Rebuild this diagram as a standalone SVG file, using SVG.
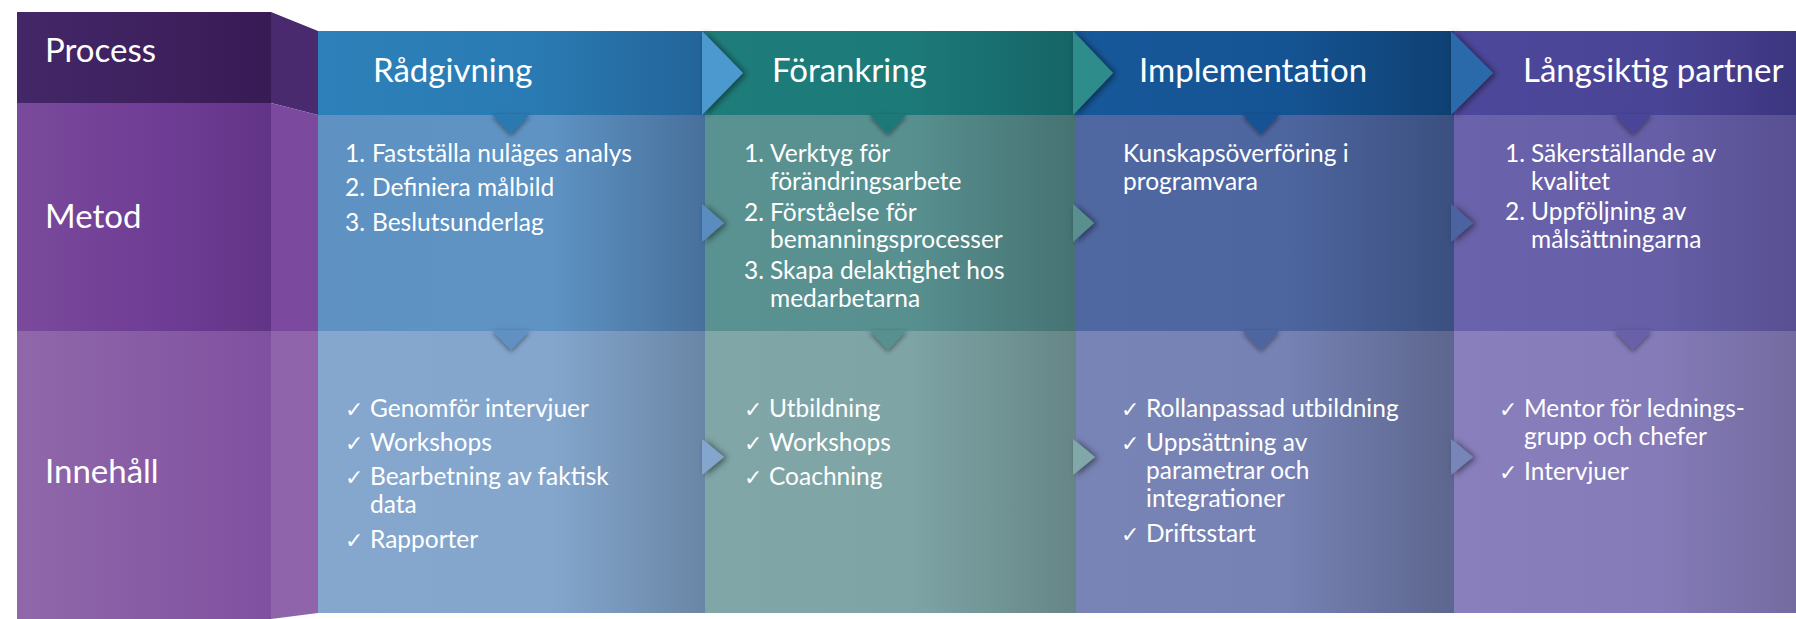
<svg xmlns="http://www.w3.org/2000/svg" width="1796" height="619" viewBox="0 0 1796 619">
<style>
.t{font-family:Lato,"Open Sans",sans-serif;fill:#fff}
.h{font-size:33px}
.b{font-size:24.5px}
.ck{font-family:"DejaVu Sans",sans-serif;font-size:22px;fill:#fff}
.sh{filter:url(#ds)}
.sd{filter:url(#dd)}
</style>
<defs>
<filter id="ds" x="-100%" y="-100%" width="300%" height="300%">
<feDropShadow dx="3" dy="1" stdDeviation="3" flood-color="#000" flood-opacity="0.5"/>
</filter>
<filter id="dd" x="-100%" y="-100%" width="300%" height="300%">
<feDropShadow dx="0" dy="2" stdDeviation="2.5" flood-color="#000" flood-opacity="0.45"/>
</filter>
<linearGradient id="lp" x1="0" x2="1"><stop offset="0" stop-color="#442768"/><stop offset="1" stop-color="#381b55"/></linearGradient>
<linearGradient id="lm" x1="0" x2="1"><stop offset="0" stop-color="#7a4a9c"/><stop offset="0.6" stop-color="#6e3c94"/><stop offset="1" stop-color="#623487"/></linearGradient>
<linearGradient id="li" x1="0" x2="1"><stop offset="0" stop-color="#9068aa"/><stop offset="1" stop-color="#8050a0"/></linearGradient>
<linearGradient id="p1" x1="0" x2="1"><stop offset="0" stop-color="#2d80b9"/><stop offset="0.55" stop-color="#2a7bb3"/><stop offset="1" stop-color="#23649a"/></linearGradient>
<linearGradient id="m1" x1="0" x2="1"><stop offset="0" stop-color="#5f92c2"/><stop offset="0.6" stop-color="#5e93c3"/><stop offset="1" stop-color="#48709c"/></linearGradient>
<linearGradient id="i1" x1="0" x2="1"><stop offset="0" stop-color="#85a7ce"/><stop offset="0.6" stop-color="#84a6cd"/><stop offset="1" stop-color="#6a86a6"/></linearGradient>
<linearGradient id="p2" x1="0" x2="1"><stop offset="0" stop-color="#1e7d7b"/><stop offset="0.55" stop-color="#1c7a78"/><stop offset="1" stop-color="#166466"/></linearGradient>
<linearGradient id="m2" x1="0" x2="1"><stop offset="0" stop-color="#5a9292"/><stop offset="0.55" stop-color="#589090"/><stop offset="1" stop-color="#467272"/></linearGradient>
<linearGradient id="i2" x1="0" x2="1"><stop offset="0" stop-color="#80a6a8"/><stop offset="0.55" stop-color="#7ea4a6"/><stop offset="1" stop-color="#668686"/></linearGradient>
<linearGradient id="p3" x1="0" x2="1"><stop offset="0" stop-color="#17589a"/><stop offset="0.55" stop-color="#155494"/><stop offset="1" stop-color="#0f4072"/></linearGradient>
<linearGradient id="m3" x1="0" x2="1"><stop offset="0" stop-color="#5068a2"/><stop offset="0.55" stop-color="#4e66a0"/><stop offset="1" stop-color="#3b5080"/></linearGradient>
<linearGradient id="i3" x1="0" x2="1"><stop offset="0" stop-color="#7884b6"/><stop offset="0.55" stop-color="#7682b4"/><stop offset="1" stop-color="#5c668e"/></linearGradient>
<linearGradient id="p4" x1="0" x2="1"><stop offset="0" stop-color="#4e489c"/><stop offset="0.6" stop-color="#4a4496"/><stop offset="1" stop-color="#3c3680"/></linearGradient>
<linearGradient id="m4" x1="0" x2="1"><stop offset="0" stop-color="#6a62aa"/><stop offset="0.6" stop-color="#665ea6"/><stop offset="1" stop-color="#585092"/></linearGradient>
<linearGradient id="i4" x1="0" x2="1"><stop offset="0" stop-color="#887fbc"/><stop offset="0.6" stop-color="#847bb8"/><stop offset="1" stop-color="#746ca0"/></linearGradient>
</defs>
<rect width="1796" height="619" fill="#fff"/>

<g id="labels">
<rect x="17" y="12" width="254" height="91" fill="url(#lp)"/>
<rect x="17" y="103" width="254" height="228" fill="url(#lm)"/>
<rect x="17" y="331" width="254" height="288" fill="url(#li)"/>
<polygon points="271,12 318,31 318,115 271,103" fill="#4a2a6e"/>
<polygon points="271,103 318,115 318,331 271,331" fill="#7b4a9f"/>
<polygon points="271,331 318,331 318,613 271,619" fill="#8f64aa"/>
<text class="t h" x="45" y="62">Process</text>
<text class="t h" x="45" y="228">Metod</text>
<text class="t h" x="45" y="483">Innehåll</text>
</g>

<g id="col1">
<rect x="318" y="31" width="387" height="84" fill="url(#p1)"/>
<rect x="318" y="115" width="387" height="216" fill="url(#m1)"/>
<rect x="318" y="331" width="387" height="282" fill="url(#i1)"/>
</g>
<g id="col2">
<rect x="705" y="31" width="371" height="84" fill="url(#p2)"/>
<rect x="705" y="115" width="371" height="216" fill="url(#m2)"/>
<rect x="705" y="331" width="371" height="282" fill="url(#i2)"/>
</g>
<g id="col3">
<rect x="1076" y="31" width="378" height="84" fill="url(#p3)"/>
<rect x="1076" y="115" width="378" height="216" fill="url(#m3)"/>
<rect x="1076" y="331" width="378" height="282" fill="url(#i3)"/>
</g>
<g id="col4">
<rect x="1454" y="31" width="342" height="84" fill="url(#p4)"/>
<rect x="1454" y="115" width="342" height="216" fill="url(#m4)"/>
<rect x="1454" y="331" width="342" height="282" fill="url(#i4)"/>
</g>

<g id="connectors">
<polygon class="sd" points="492,114 530,114 511,134" fill="#2a79b1"/>
<polygon class="sd" points="869,114 907,114 888,134" fill="#1c7977"/>
<polygon class="sd" points="1242,114 1280,114 1261,134" fill="#145294"/>
<polygon class="sd" points="1614,114 1652,114 1633,134" fill="#4a4498"/>
<polygon class="sd" points="492,330 530,330 511,350" fill="#5e92c2"/>
<polygon class="sd" points="869,330 907,330 888,350" fill="#588f8f"/>
<polygon class="sd" points="1242,330 1280,330 1261,350" fill="#4d65a0"/>
<polygon class="sd" points="1614,330 1652,330 1633,350" fill="#6860a8"/>
<polygon class="sh" points="702,31 743,73 702,115" fill="#4b99cf"/>
<polygon class="sh" points="1073,31 1113,73 1073,115" fill="#2e8d8b"/>
<polygon class="sh" points="1451,31 1493,73 1451,115" fill="#2a69aa"/>
<polygon class="sh" points="702,204 724,223 702,242" fill="#5a8cbf"/>
<polygon class="sh" points="1073,204 1094,223 1073,242" fill="#5a8f8f"/>
<polygon class="sh" points="1451,204 1473,223 1451,242" fill="#4c63a0"/>
<polygon class="sh" points="702,439 724,457 702,475" fill="#84a5ce"/>
<polygon class="sh" points="1073,439 1095,457 1073,475" fill="#80a8a8"/>
<polygon class="sh" points="1451,439 1473,457 1451,475" fill="#7885b8"/>
</g>

<g id="text1">
<text class="t h" x="373" y="82">Rådgivning</text>
<text class="t b" x="345" y="162">1.<tspan x="372">Fastställa nuläges analys</tspan></text>
<text class="t b" x="345" y="196">2.<tspan x="372">Definiera målbild</tspan></text>
<text class="t b" x="345" y="231">3.<tspan x="372">Beslutsunderlag</tspan></text>
<text class="ck" x="345" y="417">✓</text><text class="t b" x="370" y="417">Genomför intervjuer</text>
<text class="ck" x="345" y="451">✓</text><text class="t b" x="370" y="451">Workshops</text>
<text class="ck" x="345" y="485">✓</text><text class="t b" x="370" y="485">Bearbetning av faktisk<tspan x="370" y="513">data</tspan></text>
<text class="ck" x="345" y="548">✓</text><text class="t b" x="370" y="548">Rapporter</text>
</g>
<g id="text2">
<text class="t h" x="772" y="82">Förankring</text>
<text class="t b" x="744" y="162">1.<tspan x="770">Verktyg för</tspan><tspan x="770" y="190">förändringsarbete</tspan></text>
<text class="t b" x="744" y="221">2.<tspan x="770">Förståelse för</tspan><tspan x="770" y="248">bemanningsprocesser</tspan></text>
<text class="t b" x="744" y="279">3.<tspan x="770">Skapa delaktighet hos</tspan><tspan x="770" y="307">medarbetarna</tspan></text>
<text class="ck" x="744" y="417">✓</text><text class="t b" x="769" y="417">Utbildning</text>
<text class="ck" x="744" y="451">✓</text><text class="t b" x="769" y="451">Workshops</text>
<text class="ck" x="744" y="485">✓</text><text class="t b" x="769" y="485">Coachning</text>
</g>
<g id="text3">
<text class="t h" x="1139" y="82">Implementation</text>
<text class="t b" x="1123" y="162">Kunskapsöverföring i<tspan x="1123" y="190">programvara</tspan></text>
<text class="ck" x="1121" y="417">✓</text><text class="t b" x="1146" y="417">Rollanpassad utbildning</text>
<text class="ck" x="1121" y="451">✓</text><text class="t b" x="1146" y="451">Uppsättning av<tspan x="1146" y="479">parametrar och</tspan><tspan x="1146" y="507">integrationer</tspan></text>
<text class="ck" x="1121" y="542">✓</text><text class="t b" x="1146" y="542">Driftsstart</text>
</g>
<g id="text4">
<text class="t h" x="1523" y="82">Långsiktig partner</text>
<text class="t b" x="1505" y="162">1.<tspan x="1531">Säkerställande av</tspan><tspan x="1531" y="190">kvalitet</tspan></text>
<text class="t b" x="1505" y="220">2.<tspan x="1531">Uppföljning av</tspan><tspan x="1531" y="248">målsättningarna</tspan></text>
<text class="ck" x="1499" y="417">✓</text><text class="t b" x="1524" y="417">Mentor för lednings-<tspan x="1524" y="445">grupp och chefer</tspan></text>
<text class="ck" x="1499" y="480">✓</text><text class="t b" x="1524" y="480">Intervjuer</text>
</g>
</svg>
